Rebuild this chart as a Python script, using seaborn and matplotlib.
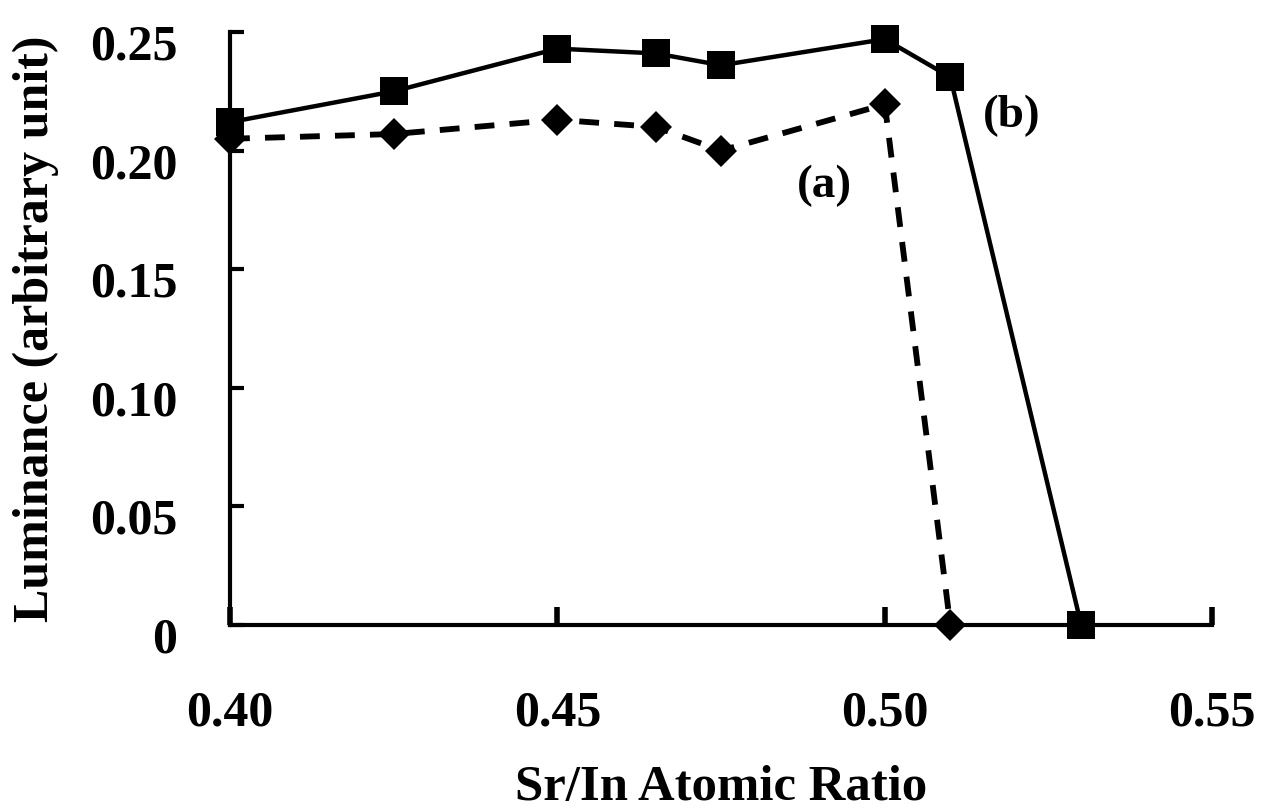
import matplotlib
matplotlib.use("Agg")
import matplotlib.pyplot as plt
import matplotlib.transforms as mtransforms
import seaborn as sns
import pandas as pd

# Data
x_b = [0.40, 0.425, 0.45, 0.465, 0.475, 0.50, 0.51, 0.53]
y_b = [0.212, 0.225, 0.243, 0.241, 0.236, 0.247, 0.231, 0.0]
x_a = [0.40, 0.425, 0.45, 0.465, 0.475, 0.50, 0.51]
y_a = [0.205, 0.207, 0.213, 0.210, 0.200, 0.2195, 0.0]
xticks = [0.40, 0.45, 0.50, 0.55]
xtick_labels = ["0.40", "0.45", "0.50", "0.55"]
yticks = [0, 0.05, 0.10, 0.15, 0.20, 0.25]
ytick_labels = ["0", "0.05", "0.10", "0.15", "0.20", "0.25"]

sns.set_style("ticks")
plt.rcParams['font.family'] = ['Liberation Serif', 'DejaVu Serif']
plt.rcParams['font.weight'] = 'bold'
for k in ['text.color', 'axes.labelcolor', 'xtick.color', 'ytick.color', 'axes.edgecolor']:
    plt.rcParams[k] = 'black'

fig = plt.figure(figsize=(12.68, 8.09), dpi=100)
ax = fig.add_axes([0.1814, 0.2274, 0.956 - 0.1814, 0.9604 - 0.2274])

df_b = pd.DataFrame({"x": x_b, "y": y_b})
df_a = pd.DataFrame({"x": x_a, "y": y_a})

sns.lineplot(data=df_a, x="x", y="y", ax=ax, color="black", marker="D",
             markersize=16, linewidth=4.2, linestyle=(0, (3.4, 2.6)),
             markeredgewidth=0, clip_on=False, zorder=3)
sns.lineplot(data=df_b, x="x", y="y", ax=ax, color="black", marker="s",
             markersize=20, linewidth=3.2, markeredgewidth=0,
             clip_on=False, zorder=4)

ax.set_xlim(0.40, 0.55)
ax.set_ylim(0, 0.25)
ax.set_xticks(xticks)
ax.set_xticklabels(xtick_labels, fontsize=36, fontweight='bold')
ax.set_yticks(yticks)
ax.set_yticklabels(ytick_labels, fontsize=36, fontweight='bold')
ax.tick_params(axis='x', direction='in', length=13, width=4, pad=47, colors='black')
ax.tick_params(axis='y', direction='in', length=10, width=3, pad=38, colors='black')

# y tick labels sit slightly below their ticks in the reference
offset = mtransforms.ScaledTranslation(0, -10 / 100, fig.dpi_scale_trans)
for lbl in ax.get_yticklabels():
    lbl.set_transform(lbl.get_transform() + offset)

for side in ['top', 'right']:
    ax.spines[side].set_visible(False)
for side in ['left', 'bottom']:
    ax.spines[side].set_linewidth(3)
    ax.spines[side].set_color('black')

ax.set_xlabel("Sr/In Atomic Ratio", fontsize=36.5, fontweight='bold', labelpad=21)
ax.set_ylabel("Luminance (arbitrary unit)", fontsize=36, fontweight='bold', labelpad=22)

ax.text(0.4908, 0.185, "(a)", fontsize=34, fontweight='bold', ha='center', va='center')
ax.text(0.5194, 0.2148, "(b)", fontsize=34, fontweight='bold', ha='center', va='center')

fig.savefig("out.png", dpi=100)
